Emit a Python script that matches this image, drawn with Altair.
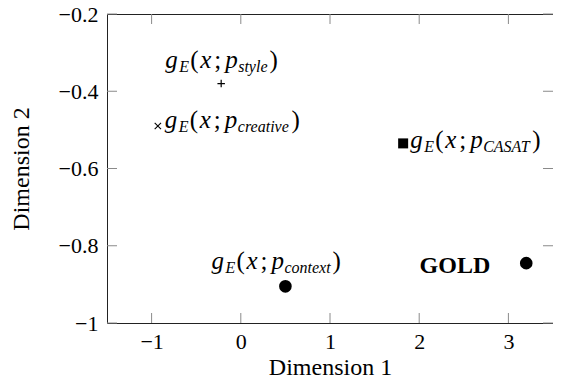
import altair as alt
import pandas as pd

# ---- data ----
names = ["style", "creative", "CASAT", "context", "GOLD"]
dim1 = [-0.22, -0.93, 1.82, 0.50, 3.20]
dim2 = [-0.38, -0.49, -0.535, -0.905, -0.845]
markers = ["plus", "times", "square", "circle", "circle"]
x_ticks = [-1, 0, 1, 2, 3]
y_ticks = [-1.0, -0.8, -0.6, -0.4, -0.2]
x_domain = [-1.5, 3.5]
y_domain = [-1.0, -0.2]
x_title = "Dimension 1"
y_title = "Dimension 2"
gold_text = "GOLD"

# ---- layout ----
W, H = 446, 309
FONT = "Liberation Serif"
MAIN, SUB = 25, 16
TICK = 10
TICKCOL = "#8a8a8a"

df = pd.DataFrame({"name": names, "d1": dim1, "d2": dim2, "marker": markers})
xt = pd.DataFrame({"t": x_ticks})
yt = pd.DataFrame({"t": y_ticks})

xscale = alt.Scale(domain=x_domain, nice=False, zero=False)
yscale = alt.Scale(domain=y_domain, nice=False, zero=False)

xaxis = alt.Axis(values=x_ticks, format="~g", ticks=False, domain=False, grid=False,
                 labelPadding=8, title=x_title, titleBaseline="alphabetic", titleY=51)
yaxis = alt.Axis(values=y_ticks, format="~g", ticks=False, domain=False, grid=False,
                 labelPadding=9, title=y_title, titleBaseline="alphabetic",
                 titleX=-79, titleY=H / 2)


def X(field):
    return alt.X(f"{field}:Q", scale=xscale, axis=xaxis)


def Y(field):
    return alt.Y(f"{field}:Q", scale=yscale, axis=yaxis)


layers = []

# inward ticks on all four sides
layers.append(alt.Chart(xt).mark_rule(color=TICKCOL, strokeWidth=1).encode(
    x=X("t"), y=alt.value(H), y2=alt.value(H - TICK)))
layers.append(alt.Chart(xt).mark_rule(color=TICKCOL, strokeWidth=1).encode(
    x=X("t"), y=alt.value(0), y2=alt.value(TICK)))
layers.append(alt.Chart(yt).mark_rule(color=TICKCOL, strokeWidth=1).encode(
    y=Y("t"), x=alt.value(0), x2=alt.value(TICK)))
layers.append(alt.Chart(yt).mark_rule(color=TICKCOL, strokeWidth=1).encode(
    y=Y("t"), x=alt.value(W - TICK), x2=alt.value(W)))

base = alt.Chart(df)

layers.append(base.transform_filter(alt.datum.marker == "plus").mark_point(
    shape="M-1,0H1M0,-1V1", filled=False, color="black", strokeWidth=1.2, size=56, opacity=1
).encode(x=X("d1"), y=Y("d2")))
layers.append(base.transform_filter(alt.datum.marker == "times").mark_point(
    shape="M-1,-1L1,1M-1,1L1,-1", filled=False, color="black", strokeWidth=1.1, size=40, opacity=1
).encode(x=X("d1"), y=Y("d2")))
layers.append(base.transform_filter(alt.datum.marker == "square").mark_point(
    shape="square", filled=True, color="black", size=100, opacity=1
).encode(x=X("d1"), y=Y("d2")))
layers.append(base.transform_filter(alt.datum.marker == "circle").mark_point(
    shape="circle", filled=True, color="black", size=160, opacity=1
).encode(x=X("d1"), y=Y("d2")))

# Times-like italic advance widths (per em)
ITAL = dict(a=.5, b=.5, c=.444, d=.5, e=.444, f=.278, g=.5, h=.5, i=.278, j=.278, k=.444,
            l=.278, m=.722, n=.5, o=.5, p=.5, q=.5, r=.389, s=.389, t=.278, u=.5, v=.444,
            w=.667, x=.444, y=.444, z=.389, A=.611, C=.667, S=.5, T=.556)


def wid(s, size):
    return sum(ITAL.get(c, 0.5) for c in s) * size


# label anchor: (dx of left edge of "g", dy of baseline) relative to the point
anchor = {"style": (-56, -16), "creative": (7, 1.5), "CASAT": (7, 4.5), "context": (-74, -17)}

for nm in names[:4]:
    ax, ay = anchor[nm]
    sub_dx = 73
    segs = [
        ("g", "italic", MAIN, 0, 0),
        ("E", "italic", SUB, 14, 4),
        ("(", "normal", MAIN, 25, 0),
        ("x", "italic", MAIN, 35, 0),
        (";", "normal", MAIN, 49, 0),
        ("p", "italic", MAIN, 60, 0),
        (nm, "italic", SUB, sub_dx, 4),
        (")", "normal", MAIN, sub_dx + wid(nm, SUB) + 2, 0),
    ]
    src = base.transform_filter(alt.datum.name == nm)
    for txt, style, size, dx, dy in segs:
        layers.append(src.mark_text(
            text=txt, font=FONT, fontStyle=style, fontSize=size, color="black",
            align="left", baseline="alphabetic", dx=ax + dx, dy=ay + dy
        ).encode(x=X("d1"), y=Y("d2")))

layers.append(base.transform_filter(alt.datum.name == "GOLD").mark_text(
    text=gold_text, font=FONT, fontWeight="bold", fontSize=24, color="black",
    align="right", baseline="alphabetic", dx=-36, dy=10
).encode(x=X("d1"), y=Y("d2")))

chart = alt.layer(*layers).properties(
    width=W, height=H,
    autosize=alt.AutoSizeParams(type="none"),
    padding={"left": 99, "top": 6, "right": 0, "bottom": 55},
    background="white",
).configure_view(
    stroke="#222", strokeWidth=1
).configure_axis(
    labelFont=FONT, labelFontSize=22, labelColor="black",
    titleFont=FONT, titleFontSize=24, titleFontWeight="normal", titleColor="black",
)

chart.save("out.html", embed_options={"renderer": "svg", "actions": False})
